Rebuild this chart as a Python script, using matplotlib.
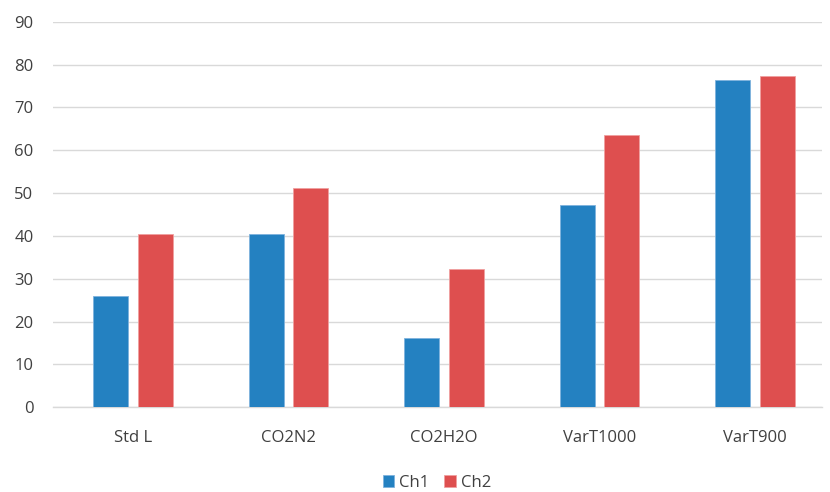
import matplotlib.pyplot as plt
import numpy as np

# Data
categories = ["Std L", "CO2N2", "CO2H2O", "VarT1000", "VarT900"]
ch1 = [26.0, 40.4, 16.2, 47.3, 76.3]
ch2 = [40.4, 51.3, 32.3, 63.6, 77.4]
yticks = [0, 10, 20, 30, 40, 50, 60, 70, 80, 90]

plt.rcParams['font.family'] = ['Open Sans', 'DejaVu Sans']

fig = plt.figure(figsize=(8.3, 4.92), dpi=100)
ax = fig.add_axes([53 / 830, 1 - 407.3 / 492, (822 - 53) / 830, (407.3 - 21.7) / 492])

x = np.arange(len(categories))
w = 0.225
off = 0.144
ax.bar(x - off, ch1, w, color='#2481C1', edgecolor='#7FB3DD', linewidth=0.6, label='Ch1', zorder=3)
ax.bar(x + off, ch2, w, color='#DE4F4F', edgecolor='#F0A0A0', linewidth=0.6, label='Ch2', zorder=3)

ax.set_xlim(-0.514, 4.43)
ax.set_ylim(0, 90)
ax.set_yticks(yticks)
ax.set_xticks(x)
ax.set_xticklabels(categories)

# Grid and formatting
ax.grid(True, axis='y', color='#D9D9D9', linewidth=1, zorder=0)
for s in ['top', 'right', 'left']:
    ax.spines[s].set_visible(False)
ax.spines['bottom'].set_color('#D9D9D9')
ax.spines['bottom'].set_linewidth(1)
ax.tick_params(axis='both', length=0, labelsize=12, labelcolor='#404040')
ax.tick_params(axis='y', pad=14)
ax.tick_params(axis='x', pad=16)

fig.legend(loc='center', bbox_to_anchor=(437 / 830, 1 - 483 / 492), ncol=2, frameon=False,
           fontsize=12, labelcolor='#404040', handlelength=0.7, handleheight=0.7,
           handletextpad=0.3, columnspacing=0.9)

plt.savefig("out.png", dpi=100)
